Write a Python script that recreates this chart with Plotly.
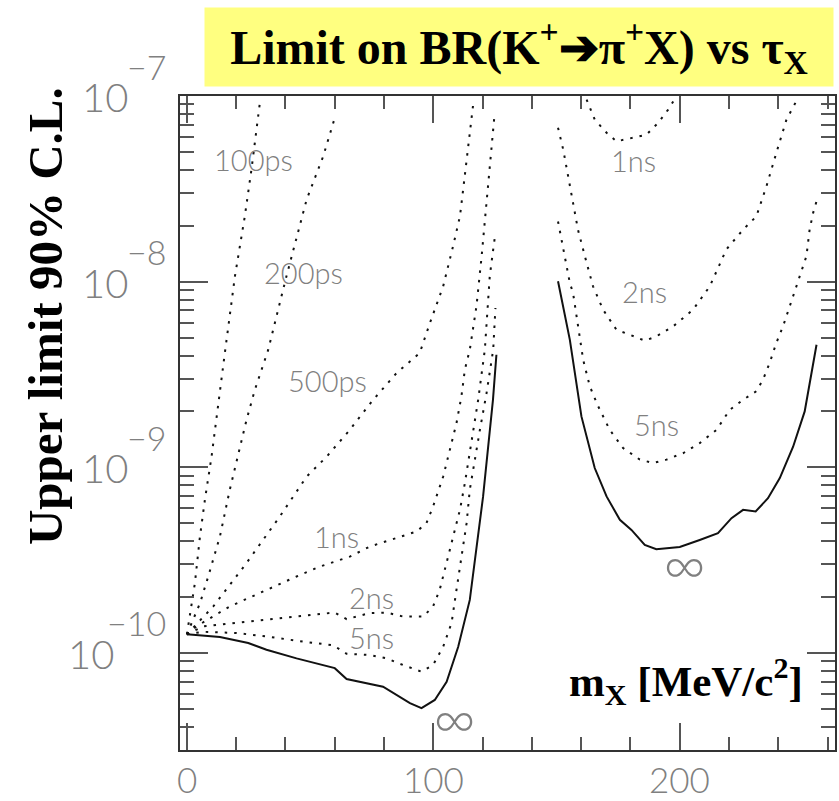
import math
import plotly.graph_objects as go

# ---------------- data (m_X in MeV/c^2, upper limit on BR) ----------------
x_100ps = [0, 3.25, 5.3, 7.3, 10.0, 12.0, 15.4, 19.5, 23.5, 26.2, 29.6]
y_100ps = [1.26e-10, 2.38e-10, 4.24e-10, 6.68e-10, 1.14e-9, 1.88e-9, 4.13e-9,
           1.07e-8, 2.25e-8, 4.02e-8, 9.18e-8]

x_200ps = [0, 5.3, 8.65, 13.4, 17.4, 20.8, 24.2, 27.6, 33.0, 40.4, 48.6, 55.3, 60.0]
y_200ps = [1.26e-10, 1.85e-10, 2.58e-10, 4.24e-10, 7.57e-10, 1.19e-9, 1.80e-9,
           2.62e-9, 4.30e-9, 1.07e-8, 2.77e-8, 4.73e-8, 7.62e-8]

x_500ps = [0, 10.7, 24.2, 37.7, 48.6, 56.7, 66.1, 75.6, 85.1, 94.5, 98.6, 104.0,
           108.0, 110.8, 112.1, 113.5, 114.8, 116.4]
y_500ps = [1.26e-10, 1.78e-10, 3.05e-10, 5.43e-10, 8.91e-10, 1.14e-9, 1.59e-9,
           2.31e-9, 3.22e-9, 4.13e-9, 5.98e-9, 9.44e-9, 1.55e-8, 2.25e-8, 3.13e-8,
           4.55e-8, 6.34e-8, 9.57e-8]

x_1ns_a = [0, 3.9, 17.4, 32.3, 44.5, 54.0, 66.1, 74.2, 85.1, 93.2, 97.2, 99.9, 104.0,
           106.7, 109.4, 111.4, 112.8, 114.8, 117.5, 119.6, 120.9, 122.2, 123.6, 124.9]
y_1ns_a = [1.26e-10, 1.39e-10, 1.78e-10, 2.19e-10, 2.58e-10, 2.92e-10, 3.30e-10,
           3.74e-10, 4.15e-10, 4.51e-10, 5.00e-10, 6.15e-10, 8.91e-10, 1.24e-9,
           1.73e-9, 2.41e-9, 3.36e-9, 4.30e-9, 7.36e-9, 1.37e-8, 2.07e-8, 3.40e-8,
           5.15e-8, 8.11e-8]

x_2ns_a = [0, 6.6, 20.2, 33.7, 47.2, 60.0, 64.8, 74.2, 81.0, 87.7, 95.9, 99.9, 102.6,
           105.4, 108.0, 110.8, 112.8, 116.1, 118.2, 120.9, 122.2, 122.9, 124.3, 125.2]
y_2ns_a = [1.26e-10, 1.39e-10, 1.455e-10, 1.52e-10, 1.58e-10, 1.65e-10, 1.52e-10,
           1.64e-10, 1.65e-10, 1.57e-10, 1.57e-10, 1.78e-10, 2.19e-10, 3.05e-10,
           4.24e-10, 5.90e-10, 8.22e-10, 1.53e-9, 2.31e-9, 4.30e-9, 7.67e-9, 1.07e-8,
           1.49e-8, 1.83e-8]

x_5ns_a = [0, 6.6, 20.2, 33.7, 47.2, 59.4, 64.8, 74.2, 81.0, 87.7, 95.2, 99.9, 104.0,
           107.4, 109.4, 111.4, 113.5, 114.8, 116.8, 118.9, 121.6, 124.3, 125.2]
y_5ns_a = [1.26e-10, 1.30e-10, 1.28e-10, 1.22e-10, 1.15e-10, 1.10e-10, 9.89e-11,
           9.75e-11, 9.35e-11, 8.61e-11, 7.93e-11, 8.61e-11, 1.08e-10, 1.45e-10,
           2.19e-10, 3.30e-10, 5.00e-10, 7.57e-10, 1.10e-9, 1.59e-9, 2.51e-9, 4.30e-9,
           7.21e-9]

x_inf_a = [0, 13.4, 24.9, 32.3, 44.5, 52.6, 60.0, 64.8, 79.6, 90.5, 95.2, 100.6, 105.4,
           110.1, 114.8, 120.2, 122.2, 124.2, 125.6]
y_inf_a = [1.26e-10, 1.22e-10, 1.13e-10, 1.04e-10, 9.35e-11, 8.79e-11, 8.28e-11,
           7.24e-11, 6.58e-11, 5.36e-11, 5.04e-11, 5.58e-11, 6.98e-11, 1.08e-10,
           1.93e-10, 6.97e-10, 1.24e-9, 2.31e-9, 4.04e-9]

x_1ns_b = [162.2, 165.5, 170.3, 174.3, 181.1, 186.5, 191.2, 195.3, 198.7]
y_1ns_b = [9.57e-8, 7.46e-8, 6.34e-8, 5.70e-8, 5.96e-8, 6.19e-8, 7.16e-8, 8.45e-8, 9.98e-8]

x_2ns_b = [150.6, 152.7, 154.7, 156.7, 158.7, 161.5, 164.8, 168.9, 174.3, 179.7, 185.8,
           190.5, 197.3, 205.4, 212.2, 218.9, 225.7, 231.1, 235.2, 239.2, 243.3, 247.3]
y_2ns_b = [6.75e-8, 5.15e-8, 3.70e-8, 2.65e-8, 1.905e-8, 1.37e-8, 9.44e-9, 7.06e-9,
           5.51e-9, 5.18e-9, 4.81e-9, 5.07e-9, 5.74e-9, 7.06e-9, 9.44e-9, 1.49e-8,
           1.905e-8, 2.25e-8, 3.27e-8, 4.94e-8, 7.46e-8, 9.38e-8]

x_5ns_b = [150.6, 152.0, 154.0, 155.4, 156.7, 158.7, 160.8, 163.5, 166.9, 171.6, 177.0,
           183.8, 189.2, 194.6, 201.3, 208.1, 214.9, 220.3, 225.7, 231.1, 233.8, 236.5,
           239.2, 241.9, 244.6, 247.3, 251.4, 252.7, 254.1, 255.5]
y_5ns_b = [2.11e-8, 1.68e-8, 1.26e-8, 9.84e-9, 8.69e-9, 5.74e-9, 3.80e-9, 2.73e-9,
           2.13e-9, 1.59e-9, 1.27e-9, 1.10e-9, 1.054e-9, 1.10e-9, 1.19e-9, 1.35e-9,
           1.59e-9, 2.04e-9, 2.31e-9, 2.57e-9, 2.97e-9, 3.65e-9, 4.68e-9, 5.74e-9,
           7.36e-9, 9.44e-9, 1.37e-8, 1.905e-8, 2.34e-8, 2.71e-8]

x_inf_b = [150.6, 155.4, 160.1, 165.5, 170.3, 175.7, 180.4, 185.8, 190.5, 200.0, 208.1,
           215.5, 221.0, 225.7, 230.8, 235.8, 240.6, 246.0, 250.7, 252.7, 255.5]
y_inf_b = [1.005e-8, 4.86e-9, 1.88e-9, 9.91e-10, 6.97e-10, 5.21e-10, 4.60e-10,
           3.82e-10, 3.62e-10, 3.72e-10, 4.06e-10, 4.42e-10, 5.32e-10, 5.90e-10,
           5.78e-10, 6.82e-10, 8.75e-10, 1.29e-9, 2.00e-9, 2.84e-9, 4.57e-9]

x_major = [0, 100, 200]
x_major_text = ["0", "100", "200"]
x_minor = [20, 40, 60, 80, 120, 140, 160, 180, 220, 240, 260]
y_major = [1e-10, 1e-9, 1e-8, 1e-7]
y_major_exp = [-10, -9, -8, -7]
y_minor = [m * 10.0 ** e for e in (-11, -10, -9, -8) for m in range(2, 10)
           if m * 10.0 ** e >= 3e-11]

# curve labels: (text, x, log10 y)
curve_labels = [("100ps", 27.2, -7.342), ("200ps", 47.3, -7.952),
                ("500ps", 57.2, -8.534), ("1ns", 60.9, -9.375),
                ("2ns", 75.1, -9.704), ("5ns", 75.1, -9.919),
                ("1ns", 181.3, -7.348), ("2ns", 185.8, -8.054),
                ("5ns", 190.7, -8.771)]
inf_labels = [(108.7, -10.340), (202.0, -9.515)]

# ---------------- figure ----------------
GRAY = "#808080"
SANS = "Lato, Liberation Sans, sans-serif"
SERIF = "Liberation Serif, serif"

dot = dict(color="#111111", width=2, dash="2.5px,7px")
solid = dict(color="#111111", width=2)

fig = go.Figure()
dotted_curves = [(x_100ps, y_100ps), (x_200ps, y_200ps), (x_500ps, y_500ps),
                 (x_1ns_a, y_1ns_a), (x_2ns_a, y_2ns_a), (x_5ns_a, y_5ns_a),
                 (x_1ns_b, y_1ns_b), (x_2ns_b, y_2ns_b), (x_5ns_b, y_5ns_b)]
for xs, ys in dotted_curves:
    fig.add_trace(go.Scatter(x=xs, y=ys, mode="lines", line=dot,
                             hoverinfo="skip", showlegend=False))
for xs, ys in [(x_inf_a, y_inf_a), (x_inf_b, y_inf_b)]:
    fig.add_trace(go.Scatter(x=xs, y=ys, mode="lines", line=solid,
                             hoverinfo="skip", showlegend=False))

tick_color = "#555555"
fig.update_xaxes(range=[-2.8, 263], showgrid=False, zeroline=False, automargin=False,
                 showline=True, linecolor="#333333", linewidth=2, mirror="ticks",
                 ticks="inside", ticklen=27, tickwidth=1.5, tickcolor=tick_color,
                 tickvals=x_major, showticklabels=False,
                 minor=dict(tickvals=x_minor, ticks="inside", ticklen=13,
                            tickwidth=1.5, tickcolor=tick_color, showgrid=False))
fig.update_yaxes(type="log", range=[math.log10(3e-11), -7], showgrid=False,
                 zeroline=False, automargin=False, showline=True,
                 linecolor="#333333", linewidth=2,
                 mirror="ticks", ticks="inside", ticklen=28, tickwidth=1.5,
                 tickcolor=tick_color, tickvals=y_major, showticklabels=False,
                 minor=dict(tickvals=y_minor, ticks="inside", ticklen=14,
                            tickwidth=1.5, tickcolor=tick_color, showgrid=False))

ann = []
# x tick labels
for xv, t in zip(x_major, x_major_text):
    ann.append(dict(xref="x", yref="paper", x=xv, y=0, text=t, showarrow=False,
                    xanchor="center", yanchor="middle", yshift=-29,
                    borderpad=0,
                    font=dict(family=SANS, size=35, color=GRAY, weight=300)))
# y tick labels 10^n
for e in y_major_exp:
    ten_shift = -64 if e <= -10 else -50
    ann.append(dict(xref="paper", yref="y", x=0, y=e, text="10", showarrow=False,
                    xanchor="right", yanchor="middle", xshift=ten_shift, yshift=-1,
                    font=dict(family=SANS, size=40, color=GRAY, weight=300)))
    ann.append(dict(xref="paper", yref="y", x=0, y=e, text="\u2212" + str(-e),
                    showarrow=False, xanchor="right", yanchor="middle",
                    xshift=-12, yshift=30,
                    font=dict(family=SANS, size=34, color=GRAY, weight=300)))

for t, xv, yv in curve_labels:
    ann.append(dict(x=xv, y=yv, text=t, showarrow=False, xanchor="center",
                    yanchor="middle",
                    font=dict(family=SANS, size=29, color=GRAY, weight=300)))
for xv, yv in inf_labels:
    ann.append(dict(x=xv, y=yv, text="\u221e", showarrow=False, xanchor="center",
                    yanchor="middle",
                    font=dict(family=SANS, size=58, color=GRAY, weight=300)))

# title in yellow box
ann.append(dict(xref="paper", yref="paper", x=0.5176, y=1.0749,
                text="Limit on BR(K<sup>+</sup>\u2794\u03c0<sup>+</sup>X) vs \u03c4<sub>X</sub>",
                showarrow=False, xanchor="center", yanchor="middle",
                width=628, height=78, borderpad=0, bgcolor="#FFFF80",
                font=dict(family=SERIF, size=48, color="black", weight="bold")))
# axis titles
ann.append(dict(xref="paper", yref="paper", x=-0.206, y=0.6636,
                text="Upper limit 90% C.L.", textangle=-90, showarrow=False,
                xanchor="center", yanchor="middle",
                font=dict(family=SERIF, size=49, color="black", weight="bold")))
ann.append(dict(xref="paper", yref="paper", x=0.7718, y=0.104,
                text="m<sub>X</sub> [MeV/c<sup>2</sup>]", showarrow=False,
                xanchor="center", yanchor="middle",
                font=dict(family=SERIF, size=43, color="black", weight="bold")))

fig.update_layout(width=839, height=801, autosize=False,
                  margin=dict(l=180, r=4, t=96, b=51),
                  paper_bgcolor="white", plot_bgcolor="white",
                  annotations=ann, showlegend=False)

fig.write_html("out.html", config={"displayModeBar": False})
